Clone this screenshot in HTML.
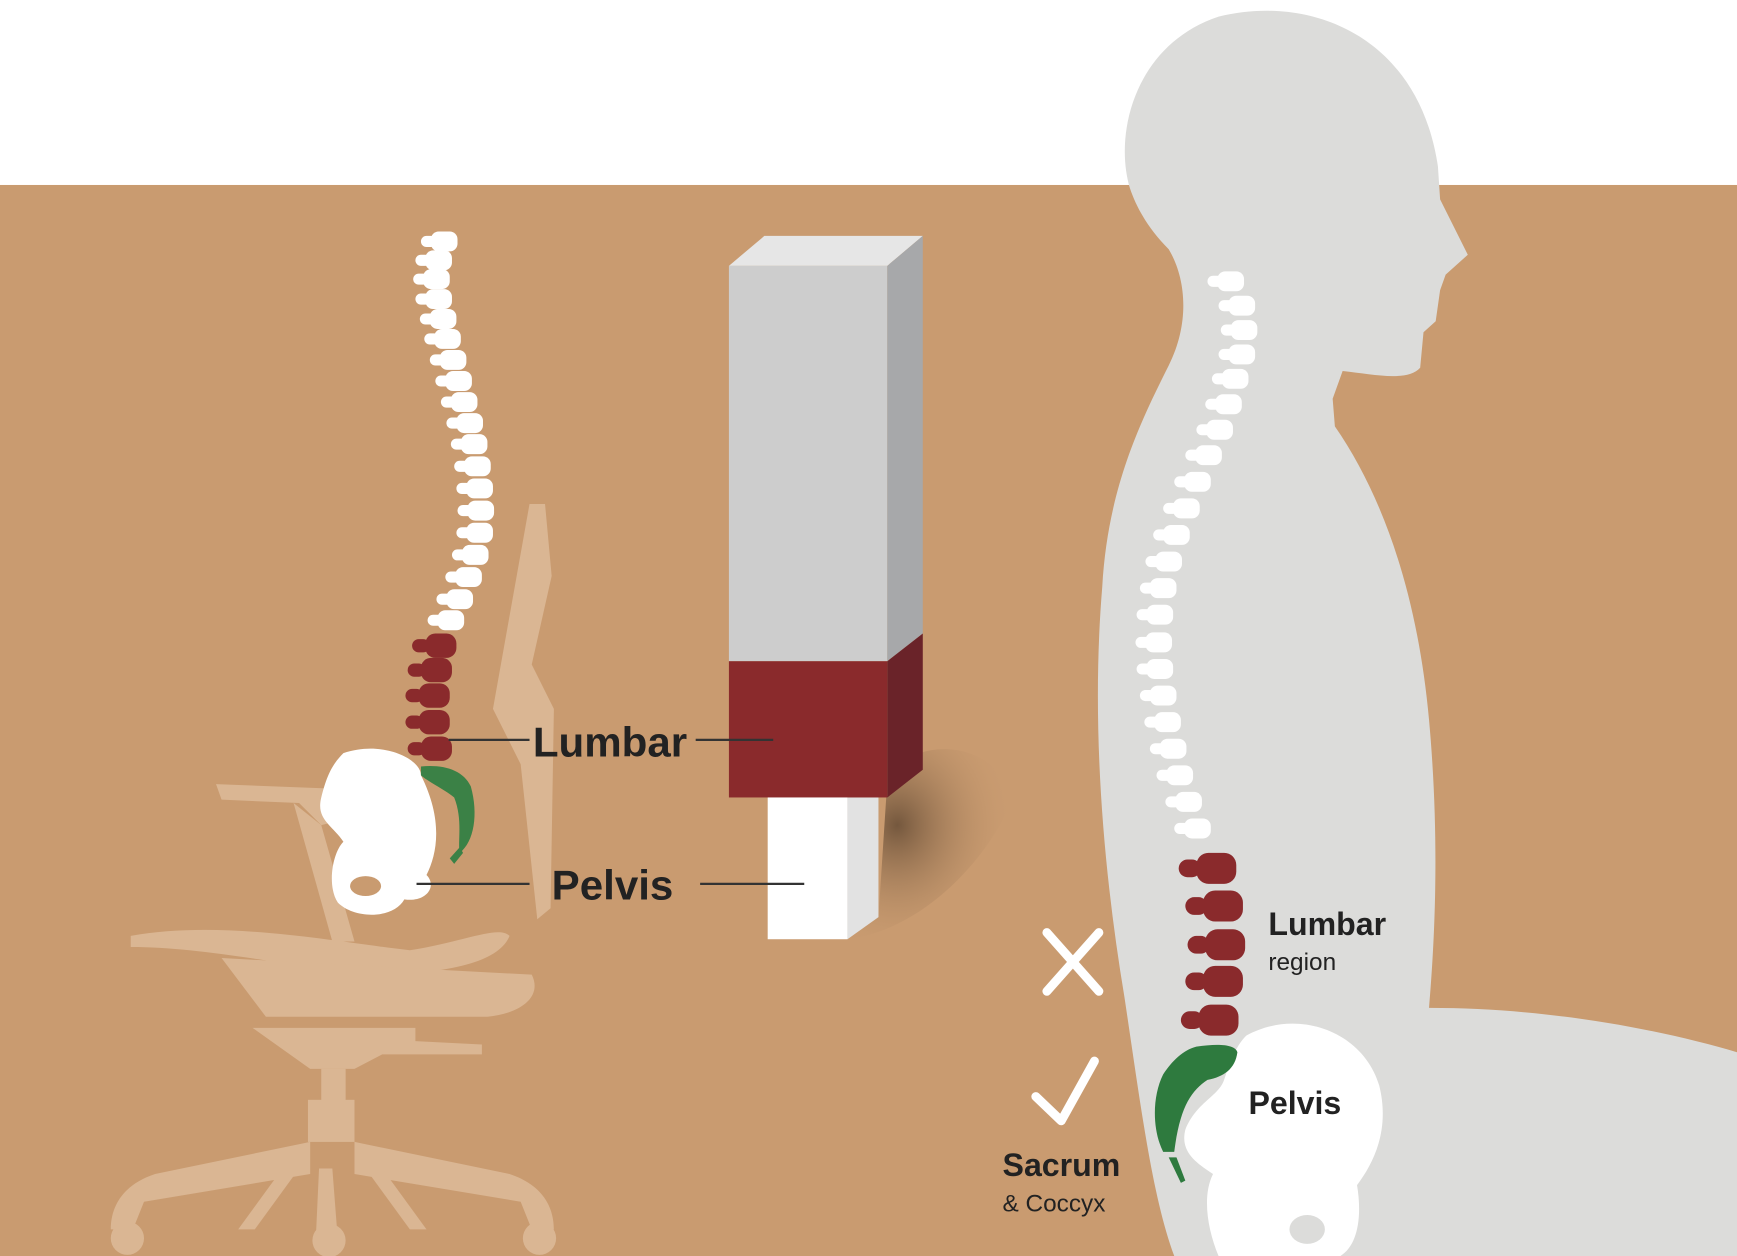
<!DOCTYPE html>
<html><head><meta charset="utf-8"><style>
html,body{margin:0;padding:0;background:#fff;}
svg{display:block;}
text{font-family:"Liberation Sans",sans-serif;font-weight:bold;fill:#222;}
</style></head><body>
<svg width="1737" height="1256" viewBox="0 0 1568 1134" preserveAspectRatio="none" xmlns="http://www.w3.org/2000/svg">
<defs>
<g id="vw"><rect x="-11" y="-9" width="24" height="18" rx="7" fill="#fff"/><rect x="-20" y="-5" width="14" height="10" rx="5" fill="#fff"/></g>
<g id="vr"><rect x="-12" y="-11" width="28" height="22" rx="9" fill="#8A2A2C"/><rect x="-24" y="-6" width="16" height="12" rx="6" fill="#8A2A2C"/></g>
<g id="vR"><rect x="-14" y="-14" width="36" height="28" rx="11" fill="#8A2A2C"/><rect x="-30" y="-8" width="20" height="16" rx="8" fill="#8A2A2C"/></g>
<radialGradient id="sh" cx="0.3" cy="0.4" r="0.7"><stop offset="0" stop-color="#6b5038" stop-opacity="0.9"/><stop offset="1" stop-color="#C99B70" stop-opacity="0"/></radialGradient>
</defs>
<rect x="0" y="167" width="1568" height="967" fill="#C99B70"/>
<!-- chair -->
<g fill="#DAB693">
<path d="M478 455 L492 455 L498 520 L480 600 L500 640 L497 820 L485 830 L470 690 L445 640 Z"/>
<path d="M195 708 L300 712 L310 740 L290 745 L270 725 L200 722 Z"/>
<path d="M265 725 L290 745 L320 850 L300 850 Z"/>
<path d="M118 845 C200 830 300 850 370 858 C420 850 450 835 460 845 C450 870 400 880 330 880 C250 870 180 855 118 855 Z"/>
<path d="M200 865 L480 880 C490 900 470 915 440 918 L240 918 Z"/>
<path d="M228 928 L375 928 L375 940 L435 943 L435 952 L345 952 L320 965 L280 965 Z"/>
<rect x="290" y="965" width="22" height="30"/>
<rect x="278" y="993" width="42" height="38"/>
<path d="M280 1031 L140 1060 C110 1070 100 1090 100 1110 L120 1110 L130 1085 L280 1060 Z"/>
<path d="M320 1031 L460 1060 C490 1070 500 1090 500 1110 L480 1110 L470 1085 L320 1060 Z"/>
<path d="M288 1055 L300 1055 L305 1120 L285 1120 Z"/>
<path d="M270 1055 L230 1110 L215 1110 L255 1055 Z"/>
<path d="M330 1055 L370 1110 L385 1110 L345 1055 Z"/>
<circle cx="115" cy="1118" r="15"/><circle cx="297" cy="1120" r="15"/><circle cx="487" cy="1118" r="15"/>
</g>
<!-- left spine -->
<g>
<use href="#vw" x="400" y="218"/><use href="#vw" x="395" y="235"/><use href="#vw" x="393" y="252"/><use href="#vw" x="395" y="270"/><use href="#vw" x="399" y="288"/><use href="#vw" x="403" y="306"/><use href="#vw" x="408" y="325"/><use href="#vw" x="413" y="344"/><use href="#vw" x="418" y="363"/><use href="#vw" x="423" y="382"/><use href="#vw" x="427" y="401"/><use href="#vw" x="430" y="421"/><use href="#vw" x="432" y="441"/><use href="#vw" x="433" y="461"/><use href="#vw" x="432" y="481"/><use href="#vw" x="428" y="501"/><use href="#vw" x="422" y="521"/><use href="#vw" x="414" y="541"/><use href="#vw" x="406" y="560"/>
<use href="#vr" x="396" y="583"/><use href="#vr" x="392" y="605"/><use href="#vr" x="390" y="628"/><use href="#vr" x="390" y="652"/><use href="#vr" x="392" y="676"/>
</g>
<path d="M310 680 C345 668 380 685 380 700 C400 740 395 770 385 790 C395 800 385 815 365 812 C355 830 320 830 305 815 C295 800 300 770 310 760 C300 745 285 740 290 720 C295 700 300 690 310 680 Z" fill="#fff"/>
<ellipse cx="330" cy="800" rx="14" ry="9" fill="#C99B70"/>
<path d="M380 692 C400 690 418 695 425 710 C432 735 428 760 415 770 C413 760 418 740 410 720 C400 712 385 705 380 700 Z" fill="#3B8146"/>
<path d="M415 765 L418 770 L410 780 L406 775 Z" fill="#3B8146"/>
<!-- column -->
<path d="M765 848 C830 840 890 780 915 720 C900 680 860 670 830 680 L800 720 L793 828 Z" fill="url(#sh)"/>
<polygon points="658,240 690,213 833,213 801,240" fill="#E6E6E6"/>
<rect x="658" y="240" width="143" height="357" fill="#CDCDCD"/>
<polygon points="801,240 833,213 833,572 801,597" fill="#A7A8AA"/>
<rect x="658" y="597" width="143" height="123" fill="#8A2A2C"/>
<polygon points="801,597 833,572 833,695 801,720" fill="#6A2329"/>
<rect x="693" y="720" width="72" height="128" fill="#fff"/>
<polygon points="765,720 793,720 793,828 765,848" fill="#E2E2E2"/>
<line x1="405" y1="668" x2="478" y2="668" stroke="#333" stroke-width="2"/>
<line x1="628" y1="668" x2="698" y2="668" stroke="#333" stroke-width="2"/>
<line x1="376" y1="798" x2="478" y2="798" stroke="#333" stroke-width="2"/>
<line x1="632" y1="798" x2="726" y2="798" stroke="#333" stroke-width="2"/>
<text x="481" y="683" font-size="38">Lumbar</text>
<text x="498" y="812" font-size="38">Pelvis</text>
<!-- person -->
<path d="M1020 170 C1005 120 1025 40 1100 15 C1180 -5 1280 30 1298 150 L1300 180 L1325 230 L1305 248 L1300 262 L1296 290 L1285 300 L1282 332 C1270 345 1240 338 1212 335 L1203 360 L1205 385 C1250 450 1280 540 1290 650 C1300 760 1295 850 1290 910 C1400 910 1500 930 1568 950 L1568 1134 L1060 1134 C1040 1080 1030 1000 1015 900 C995 780 985 650 995 530 C1000 440 1030 380 1055 330 C1075 290 1070 250 1055 225 C1035 205 1025 185 1020 170 Z" fill="#DCDCDA"/>
<g>
<use href="#vw" x="1110" y="254"/><use href="#vw" x="1120" y="276"/><use href="#vw" x="1122" y="298"/><use href="#vw" x="1120" y="320"/><use href="#vw" x="1114" y="342"/><use href="#vw" x="1108" y="365"/><use href="#vw" x="1100" y="388"/><use href="#vw" x="1090" y="411"/><use href="#vw" x="1080" y="435"/><use href="#vw" x="1070" y="459"/><use href="#vw" x="1061" y="483"/><use href="#vw" x="1054" y="507"/><use href="#vw" x="1049" y="531"/><use href="#vw" x="1046" y="555"/><use href="#vw" x="1045" y="580"/><use href="#vw" x="1046" y="604"/><use href="#vw" x="1049" y="628"/><use href="#vw" x="1053" y="652"/><use href="#vw" x="1058" y="676"/><use href="#vw" x="1064" y="700"/><use href="#vw" x="1072" y="724"/><use href="#vw" x="1080" y="748"/>
<use href="#vR" x="1094" y="784"/><use href="#vR" x="1100" y="818"/><use href="#vR" x="1102" y="853"/><use href="#vR" x="1100" y="886"/><use href="#vR" x="1096" y="921"/>
</g>
<path d="M1125 935 C1170 910 1230 930 1245 980 C1255 1020 1240 1050 1225 1070 C1230 1100 1225 1125 1210 1134 L1100 1134 C1090 1110 1085 1080 1095 1060 C1080 1050 1065 1040 1070 1020 C1080 995 1100 990 1105 975 C1110 960 1115 945 1125 935 Z" fill="#fff"/>
<ellipse cx="1180" cy="1110" rx="16" ry="13" fill="#DCDCDA"/>
<path d="M1080 945 C1100 942 1115 943 1117 950 C1115 965 1105 972 1090 975 C1075 985 1065 1000 1060 1040 L1050 1040 C1040 1020 1040 990 1050 970 C1058 958 1068 948 1080 945 Z" fill="#2E7A3E"/>
<path d="M1055 1045 L1062 1045 L1070 1066 L1066 1068 Z" fill="#2E7A3E"/>
<text x="1145" y="844" font-size="29">Lumbar</text>
<text x="1145" y="876" font-size="22" style="font-weight:normal">region</text>
<text x="1127" y="1006" font-size="29">Pelvis</text>
<text x="905" y="1062" font-size="29">Sacrum</text>
<text x="905" y="1094" font-size="22" style="font-weight:normal">&amp; Coccyx</text>
<path d="M945 842 L992 895 M992 842 L945 895" stroke="#fff" stroke-width="8" stroke-linecap="round"/>
<path d="M935 990 L958 1012 L988 958" stroke="#fff" stroke-width="8" fill="none" stroke-linecap="round" stroke-linejoin="round"/>
</svg>
</body></html>
